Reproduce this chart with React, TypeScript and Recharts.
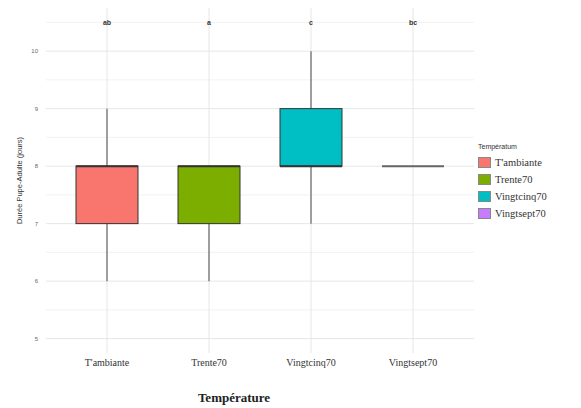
import { Bar, CartesianGrid, ComposedChart, LabelList, Line, XAxis, YAxis } from "recharts";

const categories = ["T'ambiante", "Trente70", "Vingtcinq70", "Vingtsept70"];
const colors = ["#F8766D", "#7CAE00", "#00BFC4", "#C77CFF"];
const mins = [6, 6, 7, 8];
const q1s = [7, 7, 8, 8];
const medians = [8, 8, 8, 8];
const q3s = [8, 8, 9, 8];
const maxs = [9, 8, 10, 8];
const letters = ["ab", "a", "c", "bc"];
const letterLevel = 10.5;
const majorTicks = [5, 6, 7, 8, 9, 10];
const minorTicks = [5.5, 6.5, 7.5, 8.5, 9.5, 10.5];
const yDomain = [4.75, 10.75];
const xPad = 10;

const data = categories.map((name, i) => ({
    name,
    color: colors[i],
    whisker: [mins[i], maxs[i]],
    box: [q1s[i], q3s[i]],
    q1: q1s[i],
    q3: q3s[i],
    median: medians[i],
    letterY: letterLevel,
    letter: letters[i],
}));

const WhiskerShape = (props: any) => {
    const { x, y, width, height } = props;
    const cx = x + width / 2;
    return <line x1={cx} x2={cx} y1={y} y2={y + height} stroke="#666" strokeWidth={1.2} />;
};

const BoxShape = (props: any) => {
    const { x, y, width, height, payload } = props;
    const span = payload.q3 - payload.q1;
    const my = span > 0 ? y + (height * (payload.q3 - payload.median)) / span : y;
    return (
        <g>
            {height > 0 && (
                <rect x={x} y={y} width={width} height={height} fill={payload.color} stroke="#333" strokeWidth={1} />
            )}
            <line x1={x} x2={x + width} y1={my} y2={my} stroke={height > 0 ? "#333" : "#666"} strokeWidth={2} />
        </g>
    );
};

const LetterLabel = (props: any) => {
    const { x, y, value } = props;
    return (
        <text x={x} y={y} dy={2.5} textAnchor="middle" fill="#333" fontSize={7} fontFamily="Liberation Sans, sans-serif" fontWeight={600}>
            {value}
        </text>
    );
};

const LegendBox = () => (
    <div style={{ position: "absolute", left: 478, top: 143, fontFamily: "Liberation Serif, serif", color: "#333" }}>
        <div style={{ fontSize: 7, fontFamily: "Liberation Sans, sans-serif", marginBottom: 4 }}>Températum</div>
        {categories.map((c, i) => (
            <div key={c} style={{ display: "flex", alignItems: "center", height: 17 }}>
                <span style={{ width: 13, height: 11, background: colors[i], border: "1px solid #888", boxSizing: "border-box", marginRight: 4 }} />
                <span style={{ fontSize: 10.5 }}>{c}</span>
            </div>
        ))}
    </div>
);

// grid positions follow the same linear / band mapping the axes use
const yPos = (ticks: number[]) => ({ offset }: any) =>
    ticks.map((t) => offset.top + (offset.height * (yDomain[1] - t)) / (yDomain[1] - yDomain[0]));

const xPos = ({ offset }: any) => {
    const band = (offset.width - 2 * xPad) / categories.length;
    return categories.map((_, i) => offset.left + xPad + band * (i + 0.5));
};

export default function App() {
    return (
        <div style={{ position: "fixed", left: 0, top: 0, width: 581, height: 408, background: "#fff" }}>
            <ComposedChart
                width={581}
                height={408}
                data={data}
                accessibilityLayer={false}
                margin={{ top: 8, right: 107, left: 0, bottom: 0 }}
            >
                <CartesianGrid stroke="#f2f2f2" vertical={false} horizontalCoordinatesGenerator={yPos(minorTicks)} />
                <CartesianGrid stroke="#e6e6e6" horizontalCoordinatesGenerator={yPos(majorTicks)} verticalCoordinatesGenerator={xPos} />
                <XAxis
                    xAxisId={0}
                    dataKey="name"
                    padding={{ left: xPad, right: xPad }}
                    axisLine={false}
                    tickLine={false}
                    height={55}
                    tick={{ fontSize: 10, fill: "#333", fontFamily: "Liberation Serif, serif" }}
                    dy={-2}
                    label={{
                        value: "Température",
                        position: "insideBottom",
                        offset: 6,
                        dx: -26,
                        style: { fontSize: 13, fill: "#222", fontFamily: "Liberation Serif, serif", fontWeight: 600 },
                    }}
                />
                <XAxis xAxisId={1} dataKey="name" padding={{ left: xPad, right: xPad }} hide />
                <YAxis
                    domain={yDomain}
                    ticks={majorTicks}
                    interval={0}
                    axisLine={false}
                    tickLine={false}
                    width={46}
                    tick={{ fontSize: 6, fill: "#666", fontFamily: "Liberation Sans, sans-serif" }}
                    label={{
                        value: "Durée Pupe-Adulte (jours)",
                        angle: -90,
                        position: "insideLeft",
                        offset: 19,
                        style: { fontSize: 7.5, fill: "#333", fontFamily: "Liberation Sans, sans-serif", textAnchor: "middle" },
                    }}
                />
                <Bar xAxisId={0} dataKey="whisker" barSize={62} shape={WhiskerShape} isAnimationActive={false} />
                <Bar xAxisId={1} dataKey="box" barSize={62} shape={BoxShape} isAnimationActive={false} />
                <Line xAxisId={0} dataKey="letterY" stroke="none" dot={false} activeDot={false} isAnimationActive={false}>
                    <LabelList dataKey="letter" content={LetterLabel} />
                </Line>
            </ComposedChart>
            <LegendBox />
        </div>
    );
}
